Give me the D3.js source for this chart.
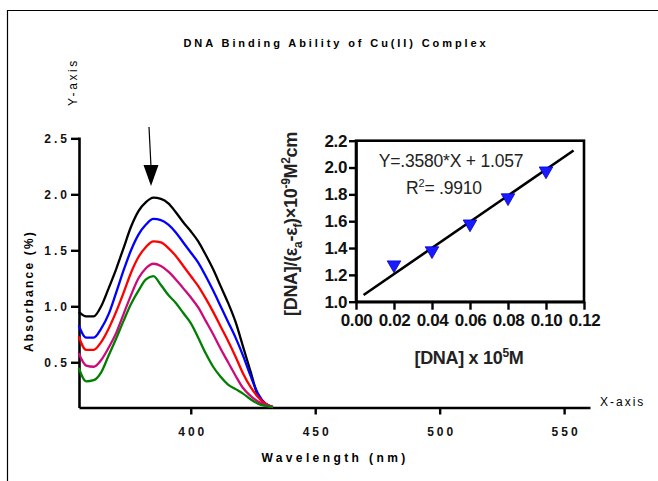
<!DOCTYPE html>
<html>
<head>
<meta charset="utf-8">
<script src="https://cdn.jsdelivr.net/npm/d3@7"></script>
<style>
  body { margin: 0; background: #fff; }
  svg { display: block; font-family: "Liberation Sans", Arial, sans-serif; }
</style>
</head>
<body>
<svg width="658" height="481"></svg>
<script>
// wavelength grid (nm) shared by all spectra
const wavelength = [355, 358, 361, 364, 367, 370, 373, 376, 379, 382, 385, 388, 391, 394,
  397, 400, 403, 406, 409, 412, 415, 418, 421, 424, 427, 430, 433];

// absorbance curves, top to bottom
const absBlack = [0.95, 0.91, 0.91, 1.0, 1.16, 1.33, 1.52, 1.71, 1.85, 1.93, 1.97, 1.96, 1.92, 1.84,
  1.75, 1.67, 1.58, 1.46, 1.33, 1.18, 1.03, 0.86, 0.64, 0.42, 0.2, 0.13, 0.1];
const absBlue = [0.83, 0.72, 0.72, 0.8, 0.93, 1.12, 1.32, 1.5, 1.64, 1.73, 1.78, 1.77, 1.73, 1.66,
  1.57, 1.48, 1.39, 1.27, 1.14, 1.0, 0.86, 0.72, 0.56, 0.38, 0.22, 0.13, 0.1];
const absRed = [0.73, 0.61, 0.61, 0.68, 0.8, 0.95, 1.12, 1.3, 1.44, 1.53, 1.58, 1.57, 1.52, 1.45,
  1.36, 1.27, 1.18, 1.07, 0.95, 0.82, 0.69, 0.55, 0.4, 0.28, 0.19, 0.13, 0.1];
const absMagenta = [0.58, 0.47, 0.46, 0.52, 0.63, 0.76, 0.93, 1.1, 1.25, 1.34, 1.38, 1.36, 1.31, 1.24,
  1.16, 1.08, 0.99, 0.87, 0.75, 0.62, 0.5, 0.38, 0.27, 0.2, 0.15, 0.12, 0.1];
const absGreen = [0.45, 0.33, 0.34, 0.41, 0.56, 0.71, 0.87, 1.02, 1.14, 1.24, 1.27, 1.19, 1.1, 1.03,
  0.94, 0.85, 0.72, 0.58, 0.46, 0.37, 0.3, 0.26, 0.22, 0.17, 0.13, 0.11, 0.1];

const curveColors = ["#000000", "#0000ff", "#ff0000", "#cc0a7a", "#008000"];
const mainXTicks = [400, 450, 500, 550];
const mainYTicks = [0.5, 1.0, 1.5, 2.0, 2.5];

// inset: binding plot
const dnaConc = [0.02, 0.04, 0.06, 0.08, 0.10];
const ratio = [1.275, 1.38, 1.58, 1.775, 1.975];
const fitX = [0.004, 0.1145];
const fitY = [1.05, 2.127];
const insetXTicks = [0, 0.02, 0.04, 0.06, 0.08, 0.10, 0.12];
const insetYTicks = [1.0, 1.2, 1.4, 1.6, 1.8, 2.0, 2.2];

const svg = d3.select("svg");

// outer frame (top and left edges only visible)
svg.append("path")
  .attr("d", "M7.5,481V10.5H658")
  .attr("fill", "none")
  .attr("stroke", "#000")
  .attr("stroke-width", 1.2);

// title
svg.append("text")
  .attr("x", 336)
  .attr("y", 47)
  .attr("text-anchor", "middle")
  .style("font-size", "11px")
  .style("font-weight", "bold")
  .style("letter-spacing", "2.9px")
  .text("DNA Binding Ability of Cu(II) Complex");

// ---- main spectra plot ----
const x = d3.scaleLinear().domain([355.1, 560.4]).range([79, 590]);
const y = d3.scaleLinear().domain([0.096, 2.512]).range([407.5, 137]);

const xAxis = svg.append("g")
  .attr("transform", "translate(0,407.5)")
  .call(d3.axisBottom(x).tickValues(mainXTicks).tickSizeInner(7).tickSizeOuter(0).tickPadding(13));
const yAxis = svg.append("g")
  .attr("transform", "translate(79,0)")
  .call(d3.axisLeft(y).tickValues(mainYTicks).tickFormat(d3.format(".1f"))
    .tickSizeInner(8).tickSizeOuter(0).tickPadding(3));

[xAxis, yAxis].forEach((g) => {
  g.select(".domain").attr("stroke-width", 2.6);
  g.selectAll(".tick line").attr("stroke-width", 2.4);
  g.selectAll("text")
    .style("font-family", "'Liberation Sans', Arial, sans-serif")
    .style("font-size", "12px")
    .style("font-weight", "bold")
    .style("letter-spacing", "3px")
    .attr("fill", "#111");
});
xAxis.selectAll("text").attr("dx", "1.5px");
yAxis.selectAll("text").attr("dx", "2px");

const line = d3.line()
  .x((d) => x(d[0]))
  .y((d) => y(d[1]))
  .curve(d3.curveMonotoneX);

[absBlack, absBlue, absRed, absMagenta, absGreen].forEach((vals, i) => {
  svg.append("path")
    .datum(wavelength.map((w, j) => [w, vals[j]]))
    .attr("fill", "none")
    .attr("stroke", curveColors[i])
    .attr("stroke-width", 2.3)
    .attr("d", line);
});

// arrow over the peak
svg.append("line")
  .attr("x1", 149).attr("y1", 127)
  .attr("x2", 151).attr("y2", 167)
  .attr("stroke", "#000").attr("stroke-width", 1.2);
svg.append("path")
  .attr("d", "M143.5,165L158.5,165L151,186Z")
  .attr("fill", "#000");

// axis titles
svg.append("text")
  .attr("transform", "translate(33,291) rotate(-90)")
  .attr("text-anchor", "middle")
  .style("font-size", "12px")
  .style("font-weight", "bold")
  .style("letter-spacing", "2.2px")
  .text("Absorbance (%)");

svg.append("text")
  .attr("x", 335)
  .attr("y", 462)
  .attr("text-anchor", "middle")
  .style("font-size", "12px")
  .style("font-weight", "bold")
  .style("letter-spacing", "3.4px")
  .text("Wavelength (nm)");

svg.append("text")
  .attr("transform", "translate(77,82) rotate(-90)")
  .attr("text-anchor", "middle")
  .style("font-size", "12px")
  .style("letter-spacing", "2.6px")
  .text("Y-axis");

svg.append("text")
  .attr("x", 600)
  .attr("y", 406)
  .style("font-size", "12px")
  .style("letter-spacing", "2px")
  .text("X-axis");

// ---- inset ----
const ix = d3.scaleLinear().domain([0, 0.12]).range([356, 584]);
const iy = d3.scaleLinear().domain([1.0, 2.2]).range([301.7, 140.7]);

svg.append("rect")
  .attr("x", ix(0)).attr("y", iy(2.2))
  .attr("width", ix(0.12) - ix(0)).attr("height", iy(1.0) - iy(2.2))
  .attr("fill", "none").attr("stroke", "#000").attr("stroke-width", 2.6);

const ixAxis = svg.append("g")
  .attr("transform", `translate(0,${iy(1.0)})`)
  .call(d3.axisBottom(ix).tickValues(insetXTicks).tickFormat(d3.format(".2f"))
    .tickSizeInner(8).tickSizeOuter(0).tickPadding(4));
const iyAxis = svg.append("g")
  .attr("transform", `translate(${ix(0)},0)`)
  .call(d3.axisLeft(iy).tickValues(insetYTicks).tickFormat(d3.format(".1f"))
    .tickSizeInner(7).tickSizeOuter(0).tickPadding(2));

[ixAxis, iyAxis].forEach((g) => {
  g.select(".domain").attr("stroke-width", 2.6);
  g.selectAll(".tick line").attr("stroke-width", 2.4);
  g.selectAll("text")
    .style("font-family", "'Liberation Sans', Arial, sans-serif")
    .style("font-weight", "bold")
    .style("letter-spacing", "-0.4px")
    .attr("fill", "#111");
});
ixAxis.selectAll("text").style("font-size", "17px");
iyAxis.selectAll("text").style("font-size", "17px");

// fit line
svg.append("line")
  .attr("x1", ix(fitX[0])).attr("y1", iy(fitY[0]))
  .attr("x2", ix(fitX[1])).attr("y2", iy(fitY[1]))
  .attr("stroke", "#000").attr("stroke-width", 2.6);

// points (inverted triangles)
const tri = d3.symbol().type(d3.symbolTriangle).size(80);
svg.selectAll(".pt")
  .data(dnaConc.map((c, i) => [c, ratio[i]]))
  .join("path")
  .attr("class", "pt")
  .attr("transform", (d) => `translate(${ix(d[0])},${iy(d[1])}) rotate(180)`)
  .attr("d", tri)
  .attr("fill", "#1a1aff")
  .attr("stroke", "#0000cc")
  .attr("stroke-width", 0.8);

// equation text
svg.append("text")
  .attr("x", 451).attr("y", 167)
  .attr("text-anchor", "middle")
  .style("font-size", "17.5px")
  .style("letter-spacing", "-0.2px")
  .attr("fill", "#222")
  .text("Y=.3580*X + 1.057");

const r2 = svg.append("text")
  .attr("x", 406).attr("y", 194)
  .style("font-size", "17.5px")
  .style("letter-spacing", "-0.2px")
  .attr("fill", "#222");
r2.append("tspan").text("R");
r2.append("tspan").attr("dy", -7).style("font-size", "11px").text("2");
r2.append("tspan").attr("dy", 7).text("= .9910");

// inset axis titles
const iyl = svg.append("text")
  .attr("transform", "translate(297,224) rotate(-90)")
  .attr("text-anchor", "middle")
  .style("font-size", "18px")
  .style("font-weight", "bold")
  .style("letter-spacing", "-0.3px")
  .attr("fill", "#222");
iyl.append("tspan").text("[DNA]/(ε");
iyl.append("tspan").attr("dy", 5).style("font-size", "12px").text("a");
iyl.append("tspan").attr("dy", -5).text("-ε");
iyl.append("tspan").attr("dy", 5).style("font-size", "12px").text("f");
iyl.append("tspan").attr("dy", -5).text(")×10");
iyl.append("tspan").attr("dy", -7).style("font-size", "12px").text("-9");
iyl.append("tspan").attr("dy", 7).text("M");
iyl.append("tspan").attr("dy", -7).style("font-size", "12px").text("2");
iyl.append("tspan").attr("dy", 7).text("cm");

const ixl = svg.append("text")
  .attr("x", 469).attr("y", 364)
  .attr("text-anchor", "middle")
  .style("font-size", "18px")
  .style("font-weight", "bold")
  .style("letter-spacing", "-0.3px")
  .attr("fill", "#222");
ixl.append("tspan").text("[DNA] x 10");
ixl.append("tspan").attr("dy", -7).style("font-size", "12px").text("5");
ixl.append("tspan").attr("dy", 7).text("M");
</script>
</body>
</html>
